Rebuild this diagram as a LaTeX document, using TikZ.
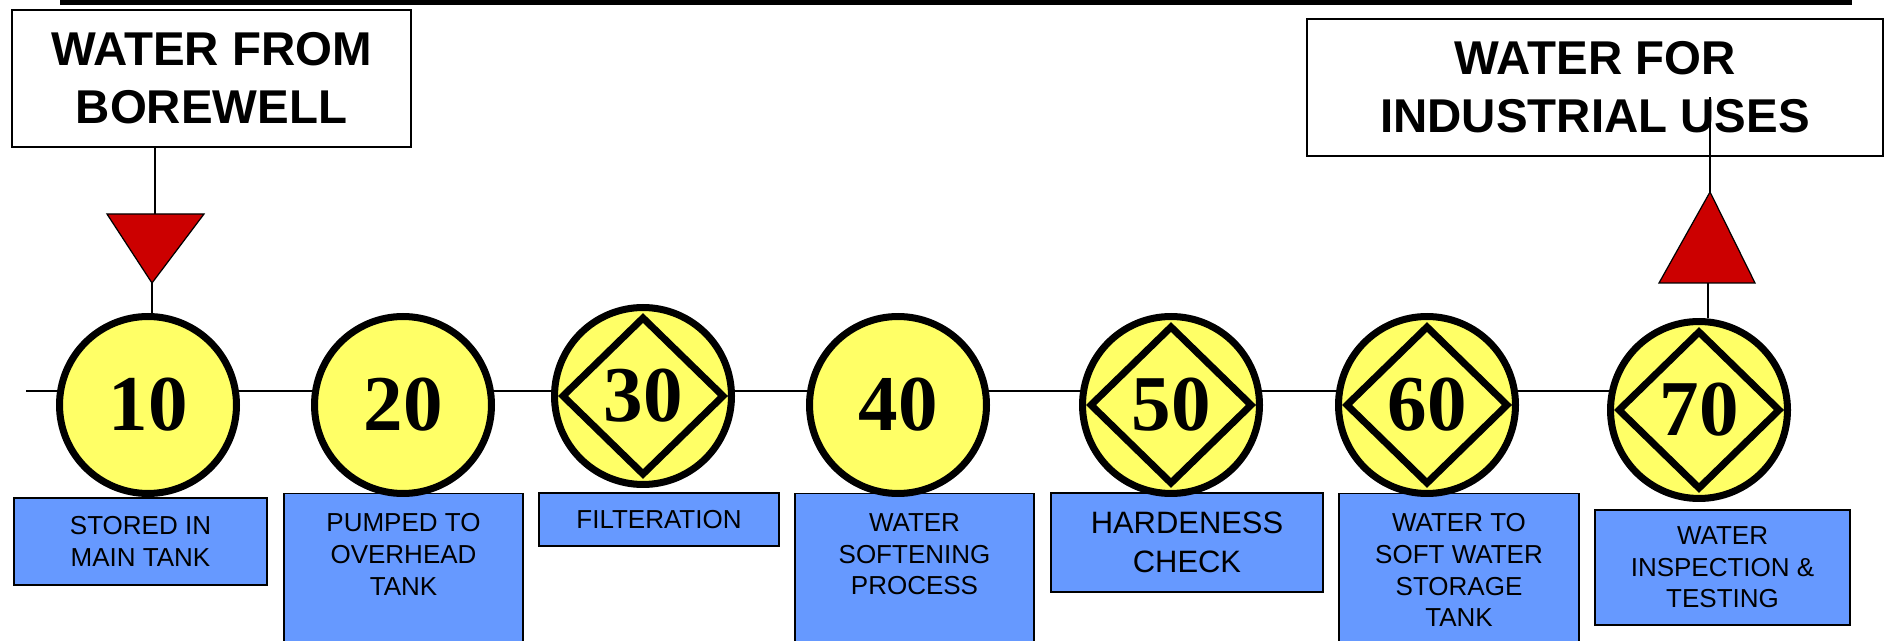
\documentclass[tikz,border=0pt]{standalone}
\usepackage{fontspec}
\setmainfont{Liberation Sans}
\newfontfamily\numfont{Liberation Serif}
\definecolor{stepyellow}{HTML}{FFFF66}
\definecolor{stageblue}{HTML}{6699FF}
\definecolor{flagred}{HTML}{CC0000}

\begin{document}
\begin{tikzpicture}[
  x=0.02cm, y=-0.02cm,
  ring/.style={line width=4pt},
  stepnode/.style={circle, draw, ring, fill=stepyellow, minimum size=3.54cm, inner sep=0pt,
                   font=\numfont\bfseries\fontsize{45}{45}\selectfont},
  endpoint/.style={rectangle, draw, line width=1pt, fill=white, align=center, inner sep=0pt,
                   minimum height=2.74cm, font=\bfseries\fontsize{27}{33}\selectfont},
  stage/.style={rectangle, draw, line width=0.8pt, fill=stageblue, align=center, inner sep=0pt,
                font=\fontsize{14.8}{18}\selectfont},
  tall/.style={stage, anchor=north, inner ysep=0.4cm},
  link/.style={line width=0.7pt},
  flag/.style={draw, fill=flagred, line width=0.7pt}
]
\useasboundingbox (0,0) rectangle (1886,641);
\fill (60,0) rectangle (1852,5);

% source and destination
\node[endpoint, minimum width=7.98cm] (borewell) at (211.5,78.5) {WATER FROM\\BOREWELL};
\node[endpoint, minimum width=11.52cm] (industry) at (1595,87.5) {WATER FOR\\INDUSTRIAL USES};

% main line behind the steps
\coordinate (spine) at (26,391);
\draw[link] (spine) -- (1640,391);

% what each step does
\node[stage, minimum width=5.06cm, minimum height=1.74cm] (b10) at (140.5,541.5) {STORED IN\\MAIN TANK};
\node[tall, minimum width=4.78cm] (b20) at (403.5,493)
  {\parbox[t][2.2cm][t]{4.6cm}{\centering PUMPED TO\\OVERHEAD\\TANK}};
\node[stage, minimum width=4.8cm, minimum height=1.06cm] (b30) at (659,519.5) {FILTERATION};
\node[tall, minimum width=4.78cm] (b40) at (914.5,493)
  {\parbox[t][2.2cm][t]{4.6cm}{\centering WATER\\SOFTENING\\PROCESS}};
\node[stage, minimum width=5.44cm, minimum height=1.98cm, font=\fontsize{17.6}{22.2}\selectfont] (b50) at (1187,542.5) {HARDENESS\\CHECK};
\node[tall, minimum width=4.8cm] (b60) at (1459,493)
  {\parbox[t][2.2cm][t]{4.6cm}{\centering WATER TO\\SOFT WATER\\STORAGE\\TANK}};
\node[stage, minimum width=5.1cm, minimum height=2.3cm] (b70) at (1722.5,567.5) {WATER\\INSPECTION \&\\TESTING};

% steps
\node[stepnode] (s10) at (148,405) {10};
\node[stepnode] (s20) at (403,405) {20};
\node[stepnode] (s30) at (643,396) {30};
\node[stepnode] (s40) at (898,405) {40};
\node[stepnode] (s50) at (1171,405) {50};
\node[stepnode] (s60) at (1427,405) {60};
\node[stepnode] (s70) at (1699,410) {70};

% checks
\draw[ring] ([yshift=1.56cm]s30.center) -- ([xshift=1.6cm]s30.center) -- ([yshift=-1.56cm]s30.center) -- ([xshift=-1.6cm]s30.center) -- cycle;
\draw[ring] ([yshift=1.56cm]s50.center) -- ([xshift=1.6cm]s50.center) -- ([yshift=-1.56cm]s50.center) -- ([xshift=-1.6cm]s50.center) -- cycle;
\draw[ring] ([yshift=1.56cm]s60.center) -- ([xshift=1.6cm]s60.center) -- ([yshift=-1.56cm]s60.center) -- ([xshift=-1.6cm]s60.center) -- cycle;
\draw[ring] ([yshift=1.56cm]s70.center) -- ([xshift=1.6cm]s70.center) -- ([yshift=-1.56cm]s70.center) -- ([xshift=-1.6cm]s70.center) -- cycle;

% water in
\coordinate (inBase) at (155,214);
\coordinate (inTip) at (152,283);
\draw[link] (borewell.south -| inBase) -- (inBase);
\draw[link] (inTip) -- (inTip |- s10.north);
\filldraw[flag] (107,214) -- (204,214) -- (inTip) -- cycle;

% water out
\coordinate (outTip) at (1710,192);
\coordinate (outBase) at (1708,283);
\coordinate (outEnd) at (1710,97);
\draw[link] (outBase) -- (outBase |- s70.north);
\draw[link] (outTip) -- (outEnd);
\filldraw[flag] (outTip) -- (1755,283) -- (1659,283) -- cycle;
\end{tikzpicture}
\end{document}
